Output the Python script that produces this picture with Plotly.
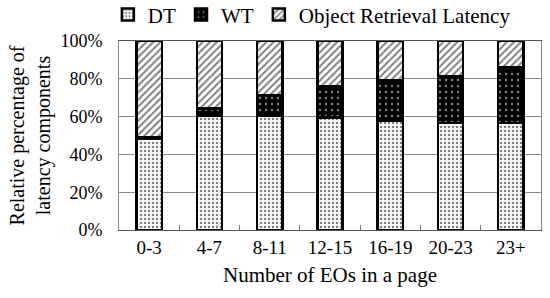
import plotly.graph_objects as go

categories = ["0-3", "4-7", "8-11", "12-15", "16-19", "20-23", "23+"]
dt = [48.5, 60.3, 60.3, 59.5, 58, 56.5, 56.5]
wt = [0.8, 3.9, 11.1, 16.7, 21.4, 24.6, 29.6]
orl = [50.7, 35.8, 28.6, 23.8, 20.6, 18.9, 13.9]
yticks = [0, 20, 40, 60, 80, 100]
ytick_text = ["0%", "20%", "40%", "60%", "80%", "100%"]

font = "Liberation Serif, Times New Roman, serif"
n = len(categories)

fig = go.Figure()
fig.add_trace(go.Bar(
    name="DT", x=categories, y=dt,
    marker=dict(color="white", line=dict(color="black", width=2.5),
                pattern=dict(shape=["."] * n, fgcolor="black", bgcolor="white", size=4, solidity=0.3)),
))
fig.add_trace(go.Bar(
    name="WT", x=categories, y=wt,
    marker=dict(color="black", line=dict(color="black", width=2.5),
                pattern=dict(shape=["."] * n, fgcolor="white", bgcolor="black", size=6, solidity=0.12)),
))
fig.add_trace(go.Bar(
    name="Object Retrieval Latency", x=categories, y=orl,
    marker=dict(color="white", line=dict(color="black", width=2.5),
                pattern=dict(shape=["/"] * n, fgcolor="black", bgcolor="white", size=5, solidity=0.4)),
))

fig.update_layout(
    barmode="stack",
    bargap=0.58,
    width=550, height=298,
    margin=dict(l=119, r=9, t=41, b=68, autoexpand=False),
    paper_bgcolor="white", plot_bgcolor="white",
    font=dict(family=font, size=18, color="black"),
    showlegend=True,
    legend=dict(orientation="h", x=0.567, xanchor="center", xref="container",
                y=0.95, yanchor="middle", yref="container",
                bgcolor="rgba(0,0,0,0)",
                font=dict(family=font, size=21), traceorder="normal"),
)
fig.update_xaxes(
    type="category",
    showline=True, linecolor="#555555", linewidth=1, mirror=True,
    ticks="inside", tickson="boundaries", ticklen=5, tickcolor="#777777",
    tickfont=dict(family=font, size=19), showgrid=False,
    title=dict(text="Number of EOs in a page", font=dict(family=font, size=21), standoff=10),
)
fig.update_yaxes(
    range=[0, 100], tickvals=yticks, ticktext=ytick_text,
    showline=True, linecolor="#888888", linewidth=1, mirror=True,
    showgrid=True, gridcolor="#888888", gridwidth=1,
    ticks="", tickfont=dict(family=font, size=18), ticklabelstandoff=12,
    title=dict(text="Relative percentage of<br>latency components", font=dict(family=font, size=20), standoff=4),
)
fig.write_html("out.html")
